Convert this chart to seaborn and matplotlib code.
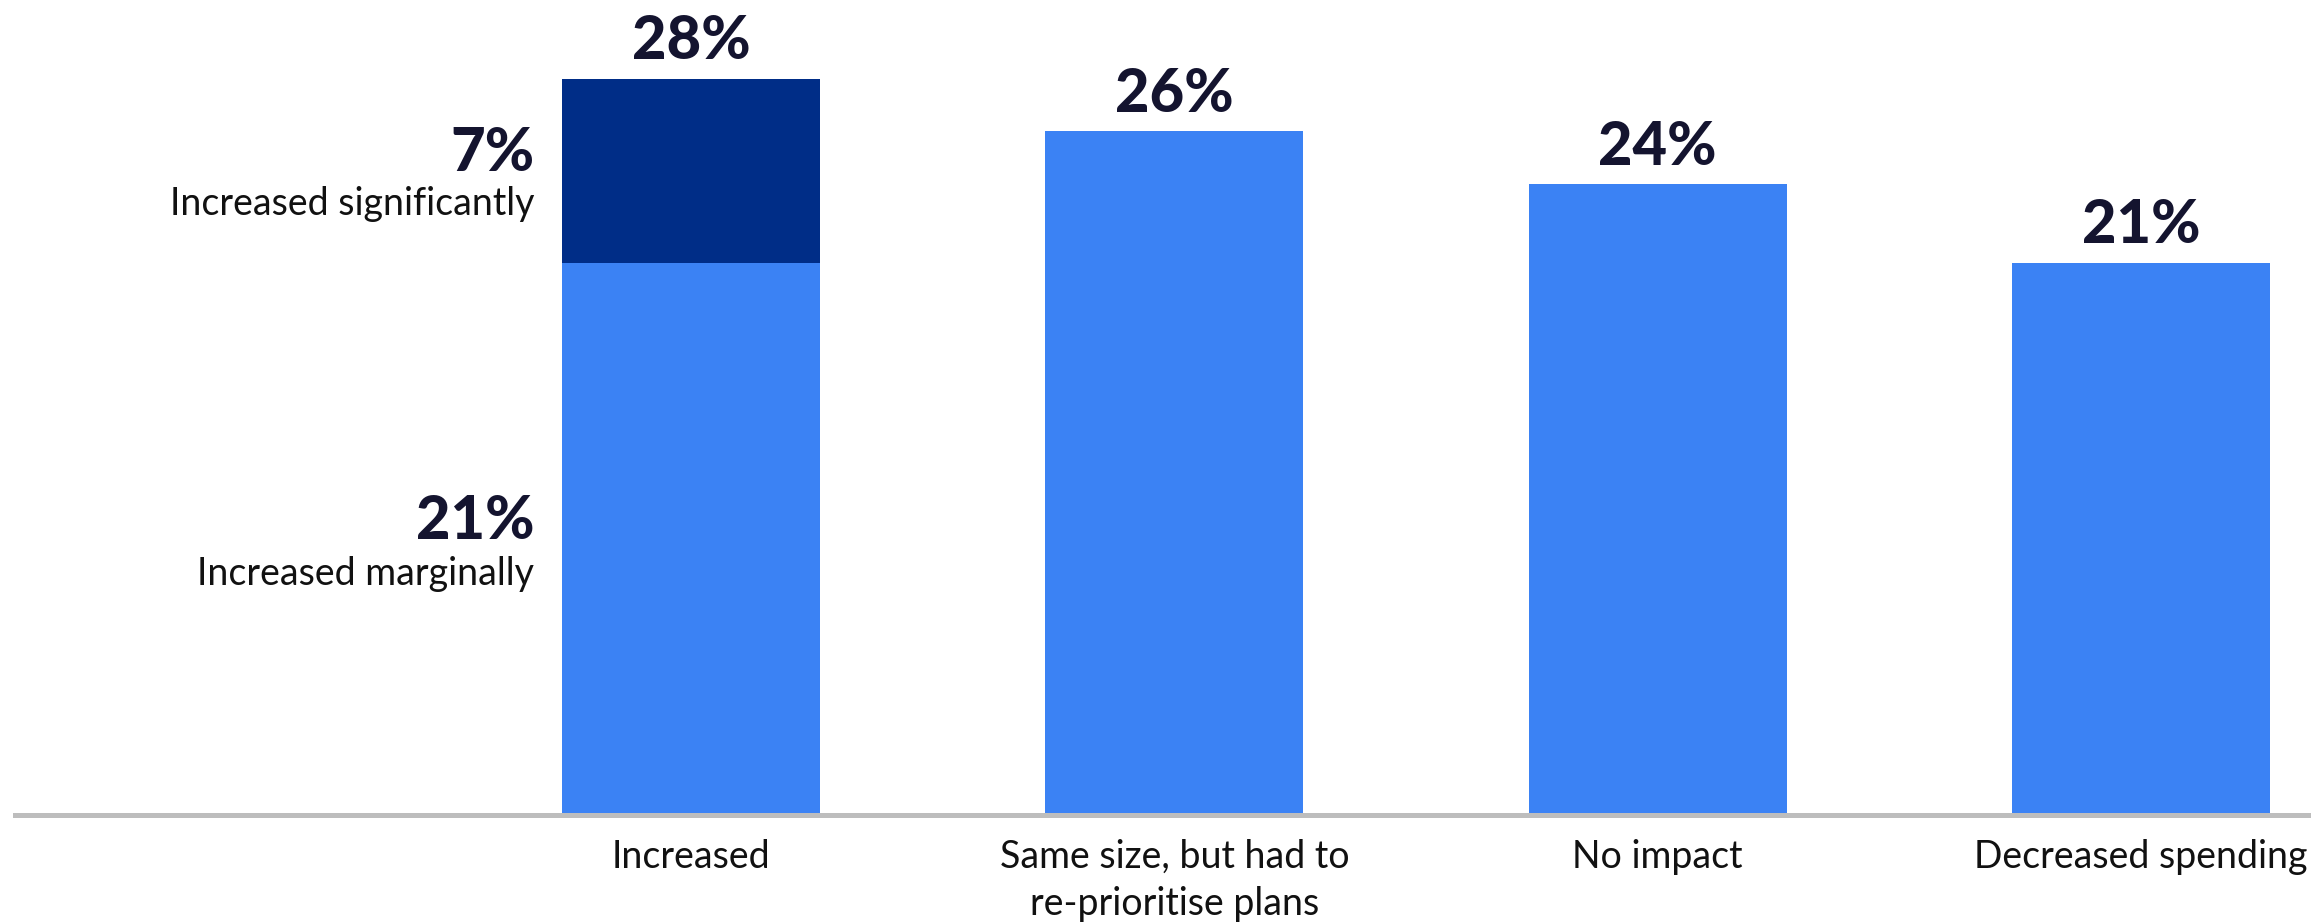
import matplotlib
matplotlib.use("Agg")
import matplotlib.pyplot as plt
import seaborn as sns
import pandas as pd

categories = ["Increased", "Same size, but had to\nre-prioritise plans", "No impact", "Decreased spending"]
base_values = [21, 26, 24, 21]
extra_values = [7, 0, 0, 0]
totals = [b + e for b, e in zip(base_values, extra_values)]
segment_labels = ["Increased marginally", "Increased significantly"]

LIGHT = "#3B82F4"
DARK = "#002D87"
TEXT = "#14142F"
LABEL = "#111111"

sns.set_theme(style="white")
plt.rcParams["font.family"] = ["Lato", "DejaVu Sans"]

fig = plt.figure(figsize=(23.11, 9.22), dpi=100)
ax = fig.add_axes([15 / 2311, 1 - 815 / 922, 1 - 15 / 2311, 815 / 922])

df = pd.DataFrame({"cat": categories, "total": totals, "base": base_values})
pal_total = [DARK if e > 0 else LIGHT for e in extra_values]
sns.barplot(data=df, x="cat", y="total", hue="cat", palette=pal_total, legend=False,
            width=0.534, saturation=1, ax=ax, linewidth=0)
sns.barplot(data=df, x="cat", y="base", color=LIGHT, width=0.534, saturation=1, ax=ax, linewidth=0)

ax.set_xlim(-1.399, 3.352)
ax.set_ylim(0, 31.0)
ax.set_xlabel("")
ax.set_ylabel("")
ax.set_yticks([])
for s in ["top", "right", "left"]:
    ax.spines[s].set_visible(False)
ax.spines["bottom"].set_color("#BDBDBD")
ax.spines["bottom"].set_linewidth(3.6)
ax.tick_params(axis="x", length=0, pad=17, labelsize=27, labelcolor=LABEL)
for lbl in ax.get_xticklabels():
    lbl.set_linespacing(1.4)

for i, t in enumerate(totals):
    ax.annotate(f"{t}%", (i, t), xytext=(0, 14), textcoords="offset points",
                ha="center", va="baseline", fontsize=43, fontweight="black", color=TEXT)

# side labels for stacked segments of first bar
lx = -0.325
mid_base = base_values[0] / 2
mid_extra = base_values[0] + extra_values[0] / 2
ax.text(lx, mid_extra, f"{extra_values[0]}%", ha="right", va="baseline",
        fontsize=43, fontweight="black", color=TEXT)
ax.annotate(segment_labels[1], (lx, mid_extra), xytext=(0, -32), textcoords="offset points",
            ha="right", va="baseline", fontsize=27, color=LABEL)
ax.text(lx, mid_base, f"{base_values[0]}%", ha="right", va="baseline",
        fontsize=43, fontweight="black", color=TEXT)
ax.annotate(segment_labels[0], (lx, mid_base), xytext=(0, -33), textcoords="offset points",
            ha="right", va="baseline", fontsize=27, color=LABEL)

fig.savefig("out.png", dpi=100)
